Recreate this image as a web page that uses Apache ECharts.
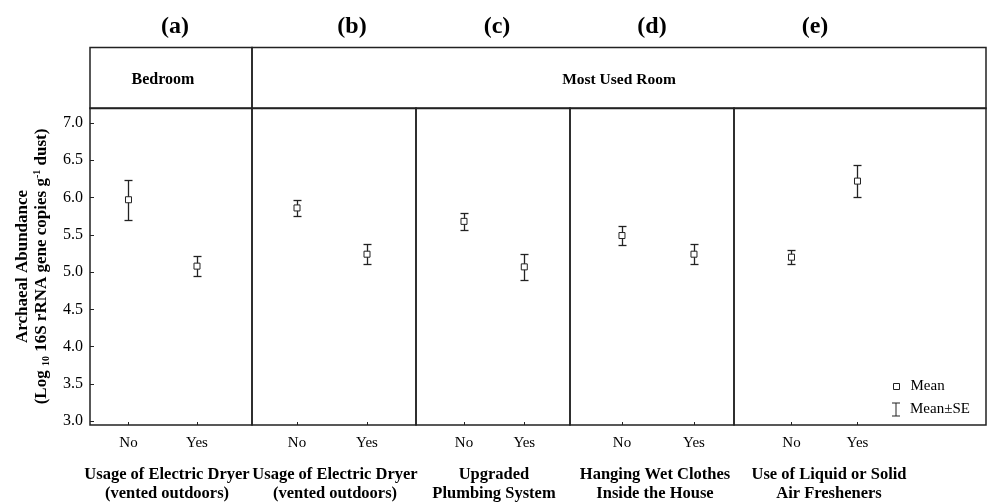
<!DOCTYPE html>
<html><head><meta charset="utf-8">
<script src="https://cdn.jsdelivr.net/npm/echarts@6/dist/echarts.min.js"></script>
<style>html,body{margin:0;padding:0;background:#fff}#chart{width:987px;height:502px}</style>
</head><body><div id="chart"></div>
<script>
// ---------- data ----------
const categories = ['No', 'Yes'];
const panelLetters = ['(a)', '(b)', '(c)', '(d)', '(e)'];
const roomHeaders = ['Bedroom', 'Most Used Room'];
const groupTitles = [
  'Usage of Electric Dryer\n(vented outdoors)',
  'Usage of Electric Dryer\n(vented outdoors)',
  'Upgraded\nPlumbing System',
  'Hanging Wet Clothes\nInside the House',
  'Use of Liquid or Solid\nAir Fresheners'
];
const meanA = [5.97, 5.08];
const meanB = [5.86, 5.24];
const meanC = [5.68, 5.07];
const meanD = [5.49, 5.24];
const meanE = [5.20, 6.22];
const seA = [0.265, 0.134];
const seB = [0.112, 0.131];
const seC = [0.110, 0.176];
const seD = [0.130, 0.134];
const seE = [0.096, 0.210];
const yTicks = [3.0, 3.5, 4.0, 4.5, 5.0, 5.5, 6.0, 6.5, 7.0];

// ---------- layout ----------
const means = [meanA, meanB, meanC, meanD, meanE];
const ses = [seA, seB, seC, seD, seE];
const panelLeft = [90, 252, 416, 570, 734];
const panelWidth = [162, 164, 154, 164, 252];
const xMin = [-0.562, -0.643, -0.796, -0.722, -0.871];
const xMax = [1.803, 1.70, 1.758, 1.556, 2.947];
const titleX = [167, 335, 494, 655, 829];
const letterX = [175, 352, 497, 652, 815];
const FONT = '"Liberation Serif", "Times New Roman", serif';
const INK = '#222';

const grids = [], xAxes = [], yAxes = [], series = [];
for (let i = 0; i < 5; i++) {
  grids.push({left: panelLeft[i], width: panelWidth[i], top: 108, bottom: 77,
    show: true, borderColor: INK, borderWidth: 1.5, backgroundColor: 'transparent'});
  xAxes.push({type: 'value', gridIndex: i, min: xMin[i], max: xMax[i], position: 'bottom',
    axisLine: {show: false, onZero: false}, splitLine: {show: false},
    axisTick: {show: true, inside: true, length: 3, customValues: [0, 1], lineStyle: {color: INK}},
    axisLabel: {customValues: [0, 1], margin: 11, color: '#000', fontFamily: FONT, fontSize: 15,
      formatter: v => categories[Math.round(v)]}
  });
  const y = {type: 'value', gridIndex: i, min: 2.95, max: 7.2, position: 'left',
    axisLine: {show: false, onZero: false}, splitLine: {show: false},
    axisTick: {show: i === 0, inside: true, length: 4, customValues: yTicks, lineStyle: {color: INK}},
    axisLabel: {show: i === 0, customValues: yTicks, margin: 7, color: '#000', fontFamily: FONT, fontSize: 16,
      formatter: v => v.toFixed(1)}
  };
  if (i === 0) {
    y.name = '{b|Archaeal Abundance}\n{b|(Log }{sub|10}{b| 16S rRNA gene copies g}{sup|-1}{b| dust)}';
    y.nameLocation = 'middle';
    y.nameRotate = 90;
    y.nameGap = 39;
    y.nameTextStyle = {fontFamily: FONT, fontWeight: 'bold', fontSize: 17, color: '#000', lineHeight: 19,
      rich: {
        b: {fontFamily: FONT, fontWeight: 'bold', fontSize: 17, lineHeight: 19, color: '#000'},
        sub: {fontFamily: FONT, fontWeight: 'bold', fontSize: 10, lineHeight: 10, verticalAlign: 'bottom', color: '#000'},
        sup: {fontFamily: FONT, fontWeight: 'bold', fontSize: 10, lineHeight: 10, verticalAlign: 'top', color: '#000'}
      }};
  }
  yAxes.push(y);
  const errData = categories.map((c, k) => [k, means[i][k], ses[i][k]]);
  series.push({
    name: 'Mean±SE', type: 'custom', xAxisIndex: i, yAxisIndex: i, z: 2,
    itemStyle: {color: INK},
    data: errData,
    renderItem: function (params, api) {
      const x = api.value(0), m = api.value(1), s = api.value(2);
      const t = api.coord([x, m + s]), b = api.coord([x, m - s]);
      const cx = Math.round(t[0]) + 0.5, ty = Math.round(t[1]) + 0.5, by = Math.round(b[1]) + 0.5;
      const st = {stroke: INK, lineWidth: 1.3};
      return {type: 'group', children: [
        {type: 'line', shape: {x1: cx, y1: ty, x2: cx, y2: by}, style: st},
        {type: 'line', shape: {x1: cx - 4, y1: ty, x2: cx + 4, y2: ty}, style: st},
        {type: 'line', shape: {x1: cx - 4, y1: by, x2: cx + 4, y2: by}, style: st}
      ]};
    }
  });
  series.push({
    name: 'Mean', type: 'scatter', xAxisIndex: i, yAxisIndex: i, z: 3,
    symbol: 'rect', symbolSize: 6,
    itemStyle: {color: '#fff', borderColor: INK, borderWidth: 1, opacity: 1},
    data: categories.map((c, k) => [k, means[i][k]])
  });
}

const graphics = [
  {type: 'rect', shape: {x: 90, y: 47.5, width: 162, height: 61}, style: {fill: 'none', stroke: INK, lineWidth: 1.5}},
  {type: 'rect', shape: {x: 252, y: 47.5, width: 734, height: 61}, style: {fill: 'none', stroke: INK, lineWidth: 1.5}},
  {type: 'text', x: 163, y: 80, style: {text: roomHeaders[0], font: 'bold 16px ' + FONT, fill: '#000', textAlign: 'center', textVerticalAlign: 'middle'}},
  {type: 'text', x: 619, y: 80, style: {text: roomHeaders[1], font: 'bold 15.5px ' + FONT, fill: '#000', textAlign: 'center', textVerticalAlign: 'middle'}}
];
for (let i = 0; i < 5; i++) {
  graphics.push({type: 'text', x: letterX[i], y: 27, style: {text: panelLetters[i], font: 'bold 24px ' + FONT, fill: '#000', textAlign: 'center', textVerticalAlign: 'middle'}});
  graphics.push({type: 'text', x: titleX[i], y: 484, style: {text: groupTitles[i], font: 'bold 16.5px ' + FONT, lineHeight: 19, fill: '#000', textAlign: 'center', textVerticalAlign: 'middle'}});
}

const option = {
  backgroundColor: '#fff',
  animation: false,
  grid: grids, xAxis: xAxes, yAxis: yAxes, series: series,
  legend: [
    {data: [{name: 'Mean', icon: 'rect', itemStyle: {color: '#fff', borderColor: INK, borderWidth: 1}}],
      left: 893, top: 379, itemWidth: 6, itemHeight: 6, selectedMode: false, padding: 0,
      textStyle: {fontFamily: FONT, fontSize: 15, color: '#000', padding: [0, 0, 0, 6]}},
    {data: [{name: 'Mean±SE', icon: 'path://M0,0h8v1h-3.5v12h3.5v1h-8v-1h3.5v-12h-3.5z', itemStyle: {color: INK, borderWidth: 0}}],
      left: 892, top: 402, itemWidth: 8, itemHeight: 14, selectedMode: false, padding: 0,
      textStyle: {fontFamily: FONT, fontSize: 15, color: '#000', padding: [0, 0, 0, 5]}}
  ],
  graphic: graphics
};
const chart = echarts.init(document.getElementById('chart'), null, {renderer: 'canvas'});
chart.setOption(option);
</script></body></html>
